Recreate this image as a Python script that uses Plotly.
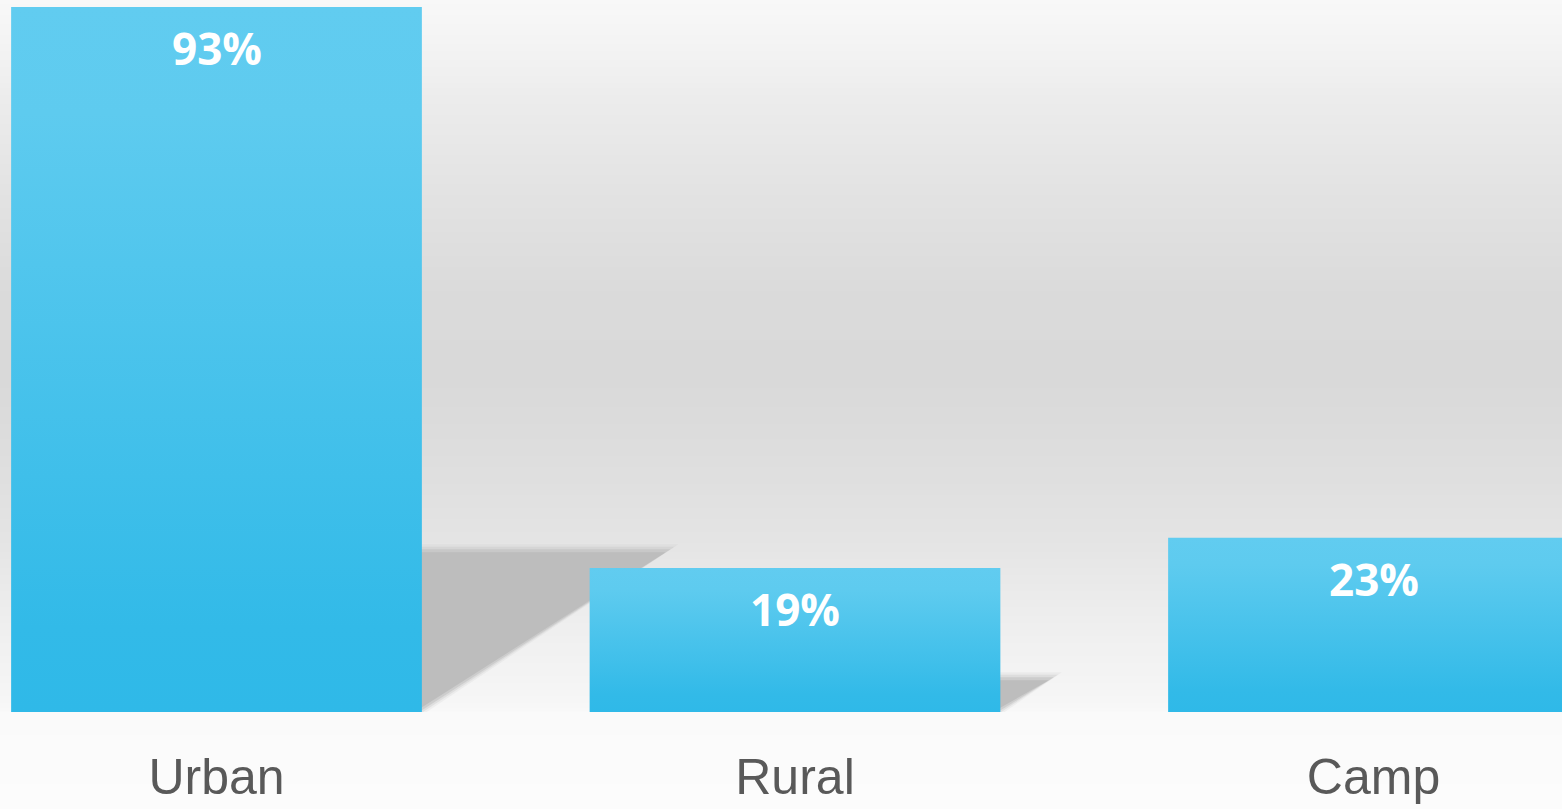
import plotly.graph_objects as go

# ---- data ----
categories = ["Urban", "Rural", "Camp"]
values = [93, 19, 23]
value_labels = ["93%", "19%", "23%"]

# ---- style constants ----
W, H = 1562, 809
MARGIN_B = 97
PLOT_H = H - MARGIN_B
X_PX = 578.5          # pixels per category step
Y_PX = 7.581          # pixels per percentage point
BAR_WIDTH = 0.71
SHADOW_RATIO = 0.228
SHADOW_SKEW = 0.0200
BAR_SCALE = [[0.0, "#2FB9E8"], [0.12, "#32BAE8"], [0.85, "#5ECBEF"], [1.0, "#61CCF0"]]
BG_STOPS = [  # (pixel y from top, grey level)
    (0, 248), (50, 243), (100, 236), (200, 226), (300, 218), (380, 217),
    (450, 221), (540, 228), (620, 238), (700, 246), (712, 248),
    (713, 250), (809, 252),
]

fig = go.Figure()

# background gradient bands
shapes = []
def grey_at(py):
    for (y0, g0), (y1, g1) in zip(BG_STOPS[:-1], BG_STOPS[1:]):
        if y0 <= py <= y1:
            t = 0 if y1 == y0 else (py - y0) / (y1 - y0)
            return g0 + (g1 - g0) * t
    return BG_STOPS[-1][1]

step = 4
for py in range(0, H, step):
    g = int(round(grey_at(py + step / 2)))
    shapes.append(dict(
        type="rect", xref="paper", yref="paper", layer="below",
        x0=-0.01, x1=1.01,
        y0=(PLOT_H - py - step - 0.5) / PLOT_H, y1=(PLOT_H - py + 0.5) / PLOT_H,
        fillcolor=f"rgb({g},{g},{g})", line=dict(width=0),
    ))

# soft shadows: triangles to the right of each bar (behind bars)
blur = [(7, "rgba(185,185,185,0.15)"), (4.5, "rgba(185,185,185,0.28)"),
        (2, "rgba(187,187,187,0.5)"), (-1, "#bdbdbd")]
for i, v in enumerate(values):
    h = SHADOW_RATIO * v
    dx = SHADOW_SKEW * h
    xr = i + BAR_WIDTH / 2
    for e, col in blur:
        ex = e / X_PX
        ey = e / Y_PX
        xs = [xr - 0.01, xr - 0.01, xr + dx + 1.6 * ex, xr - 0.01]
        ys = [-ey, h + ey, h + ey, -ey]
        fig.add_trace(go.Scatter(x=xs, y=ys, mode="lines", fill="toself",
                                 fillcolor=col, line=dict(width=0, color="rgba(0,0,0,0)"),
                                 hoverinfo="skip", showlegend=False))

# bars with vertical gradient
for i, (c, v) in enumerate(zip(categories, values)):
    xs = [i - BAR_WIDTH / 2, i + BAR_WIDTH / 2, i + BAR_WIDTH / 2, i - BAR_WIDTH / 2, i - BAR_WIDTH / 2]
    ys = [0, 0, v, v, 0]
    fig.add_trace(go.Scatter(
        x=xs, y=ys, mode="lines", fill="toself",
        line=dict(width=0, color="rgba(0,0,0,0)"),
        fillgradient=dict(type="vertical", colorscale=BAR_SCALE),
        name=c, hoverinfo="skip", showlegend=False,
    ))

annotations = []
for i, (v, t) in enumerate(zip(values, value_labels)):
    annotations.append(dict(
        x=i, y=v, xref="x", yref="y", text=t, showarrow=False,
        yanchor="middle", yshift=-41,
        font=dict(family="Open Sans", size=44, color="white", weight="bold"),
    ))

fig.update_layout(
    width=W, height=H,
    margin=dict(l=0, r=0, t=0, b=MARGIN_B, pad=0),
    paper_bgcolor="#fbfbfb",
    plot_bgcolor="rgba(0,0,0,0)",
    shapes=shapes,
    annotations=annotations,
    showlegend=False,
    xaxis=dict(
        range=[-216.5 / X_PX, (W - 216.5) / X_PX],
        tickvals=list(range(len(categories))), ticktext=categories,
        tickfont=dict(family="Liberation Sans", size=50, color="#595959"),
        ticklabelstandoff=31,
        showgrid=False, zeroline=False, showline=False, ticks="",
        fixedrange=True,
    ),
    yaxis=dict(
        range=[0, PLOT_H / Y_PX],
        visible=False, showgrid=False, zeroline=False, fixedrange=True,
    ),
)

fig.write_html(
    "out.html",
    config={"displayModeBar": False},
    post_script="document.body.style.margin='0';document.body.style.overflow='hidden';",
)
